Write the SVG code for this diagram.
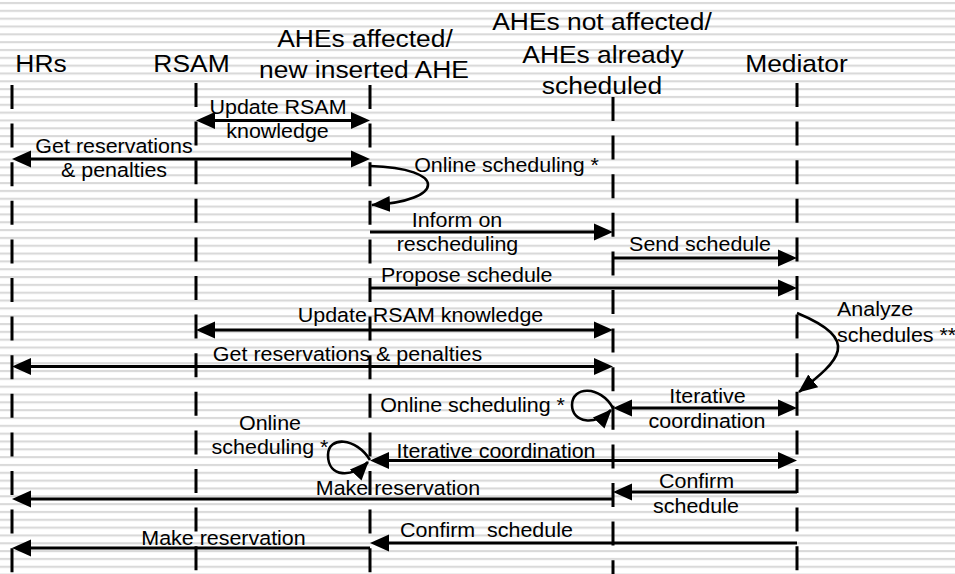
<svg xmlns="http://www.w3.org/2000/svg" width="955" height="574" viewBox="0 0 955 574">
<style>
text{font-family:"Liberation Sans",Arial,Helvetica,sans-serif;fill:#000;text-anchor:middle;white-space:pre}
.h{font-size:24px}
.s{font-size:19.5px}
.st{text-anchor:start}
.life{fill:none;stroke:#000;stroke-width:3;stroke-dasharray:24 14.6}
.msg{fill:none;stroke:#000;stroke-width:3}
.loop{fill:none;stroke:#000;stroke-width:2.6}
</style>
<defs>
<pattern id="bg" patternUnits="userSpaceOnUse" width="20" height="7.83">
<rect x="0" y="2" width="20" height="2.1" fill="#d9d9d9"/>
</pattern>
<marker id="ah" markerUnits="userSpaceOnUse" markerWidth="20" markerHeight="18" viewBox="0 0 20 18" refX="9" refY="9" orient="auto-start-reverse">
<path d="M0,0.5 L19,9 L0,17.5z" fill="#000"/>
</marker>
<marker id="ahc" markerUnits="userSpaceOnUse" markerWidth="20" markerHeight="18" viewBox="0 0 20 18" refX="18" refY="9" orient="auto">
<path d="M0,1 L19,9 L0,17z" fill="#000"/>
</marker>
</defs>
<rect width="955" height="574" fill="#fff"/>
<rect width="955" height="574" fill="url(#bg)"/>

<g id="HRs">
<text class="h" transform="translate(41,71.5) scale(1.1,1)">HRs</text>
<path class="life" d="M12,85V574"/>
</g>
<g id="RSAM">
<text class="h" transform="translate(191.5,72) scale(1.1,1)">RSAM</text>
<path class="life" d="M196,83V574"/>
</g>
<g id="AHEsAffected">
<text class="h" transform="translate(365,46.5) scale(1.1,1)">AHEs affected/</text>
<text class="h" transform="translate(364,77.5) scale(1.1,1)">new inserted AHE</text>
<path class="life" d="M370,85V574"/>
</g>
<g id="AHEsNotAffected">
<text class="h" transform="translate(602,30) scale(1.1,1)">AHEs not affected/</text>
<text class="h" transform="translate(603,62.5) scale(1.1,1)">AHEs already</text>
<text class="h" transform="translate(602,94) scale(1.1,1)">scheduled</text>
<path class="life" d="M613,97V574"/>
</g>
<g id="Mediator">
<text class="h" transform="translate(796.5,72) scale(1.1,1)">Mediator</text>
<path class="life" d="M797,83V574"/>
</g>

<g id="connectors">
<g id="m1">
<path class="msg" d="M206,120.5H360" marker-start="url(#ah)" marker-end="url(#ah)"/>
<text class="s" transform="translate(278,113.5) scale(1.1,1)">Update RSAM</text>
<text class="s" transform="translate(277.5,137.5) scale(1.1,1)">knowledge</text>
</g>
<g id="m2">
<path class="msg" d="M22,159H360" marker-start="url(#ah)" marker-end="url(#ah)"/>
<text class="s" transform="translate(114,153) scale(1.1,1)">Get reservations</text>
<text class="s" transform="translate(114,177) scale(1.1,1)">&amp; penalties</text>
</g>
<g id="m3">
<path class="loop" d="M370,166 C448,168 446,201 372,205" marker-end="url(#ahc)"/>
<text class="s" transform="translate(506.5,171.5) scale(1.1,1)">Online scheduling *</text>
</g>
<g id="m4">
<path class="msg" d="M370,232H603" marker-end="url(#ah)"/>
<text class="s" transform="translate(457,226.5) scale(1.1,1)">Inform on</text>
<text class="s" transform="translate(457.5,251) scale(1.1,1)">rescheduling</text>
</g>
<g id="m5">
<path class="msg" d="M613,258H787" marker-end="url(#ah)"/>
<text class="s" transform="translate(700,251) scale(1.1,1)">Send schedule</text>
</g>
<g id="m6">
<path class="msg" d="M370,288H787" marker-end="url(#ah)"/>
<text class="s" transform="translate(466.7,281.5) scale(1.1,1)">Propose schedule</text>
</g>
<g id="m7">
<path class="msg" d="M206,330H603" marker-start="url(#ah)" marker-end="url(#ah)"/>
<text class="s" transform="translate(420.5,321.5) scale(1.1,1)">Update RSAM knowledge</text>
</g>
<g id="m8">
<path class="msg" d="M22,366.5H603" marker-start="url(#ah)" marker-end="url(#ah)"/>
<text class="s" transform="translate(347.5,360.5) scale(1.1,1)">Get reservations &amp; penalties</text>
</g>
<g id="m9">
<path class="loop" d="M797,313 C862,340 840,360 799,392" marker-end="url(#ahc)"/>
<text class="s st" transform="translate(837,316) scale(1.1,1)">Analyze</text>
<text class="s st" transform="translate(837,341.5) scale(1.1,1)">schedules **</text>
</g>
<g id="m10">
<path class="loop" d="M613,408 C600,385 572,386 572,405 C572,423 596,426 611,410" marker-end="url(#ahc)"/>
<text class="s" transform="translate(472.5,411.5) scale(1.1,1)">Online scheduling *</text>
</g>
<g id="m11">
<path class="msg" d="M623,408H787" marker-start="url(#ah)" marker-end="url(#ah)"/>
<text class="s" transform="translate(707.5,402.5) scale(1.1,1)">Iterative</text>
<text class="s" transform="translate(707,427.5) scale(1.1,1)">coordination</text>
</g>
<g id="m12">
<path class="loop" d="M370,460 C356,437 328,436 328,455 C328,478 353,478 368,462" marker-end="url(#ahc)"/>
<text class="s" transform="translate(270,430) scale(1.1,1)">Online</text>
<text class="s" transform="translate(270,454) scale(1.1,1)">scheduling *</text>
</g>
<g id="m13">
<path class="msg" d="M380,460.5H787" marker-start="url(#ah)" marker-end="url(#ah)"/>
<text class="s" transform="translate(496,458) scale(1.1,1)">Iterative coordination</text>
</g>
<g id="m14">
<path class="msg" d="M613,499H22" marker-end="url(#ah)"/>
<text class="s" transform="translate(398,495) scale(1.1,1)">Make reservation</text>
</g>
<g id="m15">
<path class="msg" d="M797,492H623" marker-end="url(#ah)"/>
<text class="s" transform="translate(696.5,487.5) scale(1.1,1)">Confirm</text>
<text class="s" transform="translate(696,513) scale(1.1,1)">schedule</text>
</g>
<g id="m16">
<path class="msg" d="M370,548H22" marker-end="url(#ah)"/>
<text class="s" transform="translate(223.5,545) scale(1.1,1)">Make reservation</text>
</g>
<g id="m17">
<path class="msg" d="M797,543H380" marker-end="url(#ah)"/>
<text class="s" transform="translate(486.5,537) scale(1.1,1)">Confirm  schedule</text>
</g>
</g>
</svg>
